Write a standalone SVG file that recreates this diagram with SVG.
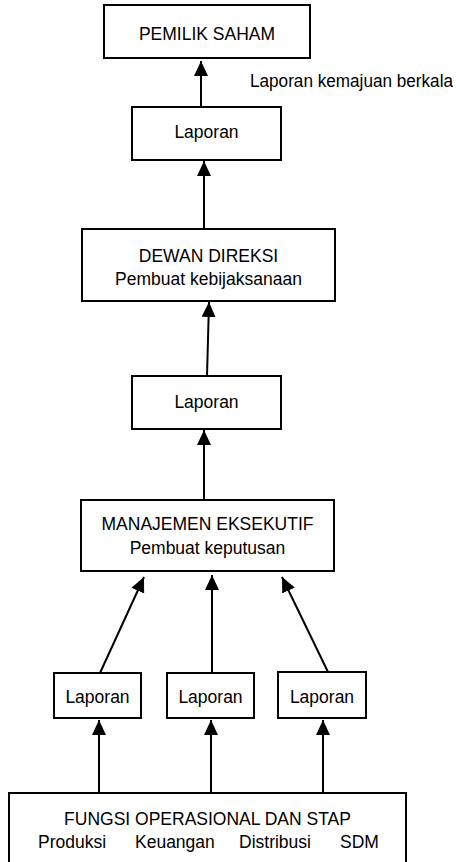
<svg xmlns="http://www.w3.org/2000/svg" width="456" height="862" viewBox="0 0 456 862">
<style>
.box{fill:#fff;stroke:#000;stroke-width:2}
.t{font-family:"Liberation Sans",Arial,sans-serif;font-size:17.5px;fill:#000;text-anchor:middle}
.ts{font-family:"Liberation Sans",Arial,sans-serif;font-size:17.5px;fill:#000}
.c{stroke:#000;stroke-width:2;fill:none;marker-end:url(#ah)}
</style>
<defs>
<marker id="ah" markerUnits="userSpaceOnUse" markerWidth="16" markerHeight="14" refX="15" refY="7" orient="auto" viewBox="0 0 16 14">
<path d="M0,0 L15,7 L0,14 z" fill="#000"/>
</marker>
</defs>
<rect width="456" height="862" fill="#fff"/>
<g id="connectors">
<line class="c" x1="201" y1="107" x2="201" y2="61"/>
<line class="c" x1="204" y1="229" x2="204" y2="161"/>
<line class="c" x1="207" y1="376" x2="209" y2="302"/>
<line class="c" x1="204" y1="500" x2="204" y2="430"/>
<line class="c" x1="100" y1="673" x2="144" y2="577"/>
<line class="c" x1="212" y1="673" x2="212" y2="575"/>
<line class="c" x1="328" y1="672" x2="282" y2="577"/>
<line class="c" x1="99" y1="793" x2="99" y2="720"/>
<line class="c" x1="211" y1="793" x2="211" y2="720"/>
<line class="c" x1="323" y1="793" x2="323" y2="720"/>
</g>
<g id="label-berkala">
<text class="ts" x="250" y="87" textLength="203" lengthAdjust="spacingAndGlyphs">Laporan kemajuan berkala</text>
</g>
<g id="pemilik">
<rect class="box" x="104" y="5" width="206" height="53"/>
<text class="t" x="207" y="40">PEMILIK SAHAM</text>
</g>
<g id="laporan1">
<rect class="box" x="132" y="107" width="149" height="53"/>
<text class="t" x="206.5" y="138">Laporan</text>
</g>
<g id="dewan">
<rect class="box" x="82" y="229" width="253" height="72"/>
<text class="t" x="208.5" y="262">DEWAN DIREKSI</text>
<text class="t" x="208.5" y="285">Pembuat kebijaksanaan</text>
</g>
<g id="laporan2">
<rect class="box" x="132" y="376" width="149" height="53"/>
<text class="t" x="206.5" y="408">Laporan</text>
</g>
<g id="manajemen">
<rect class="box" x="81" y="500" width="253" height="71"/>
<text class="t" x="207.5" y="530">MANAJEMEN EKSEKUTIF</text>
<text class="t" x="207.5" y="554">Pembuat keputusan</text>
</g>
<g id="laporan3">
<rect class="box" x="54" y="673" width="87" height="45"/>
<text class="t" x="97.5" y="703">Laporan</text>
</g>
<g id="laporan4">
<rect class="box" x="167" y="673" width="87" height="45"/>
<text class="t" x="210.5" y="703">Laporan</text>
</g>
<g id="laporan5">
<rect class="box" x="278" y="672" width="88" height="46"/>
<text class="t" x="322" y="703">Laporan</text>
</g>
<g id="fungsi">
<rect class="box" x="9" y="793" width="397" height="80"/>
<text class="t" x="207.5" y="825">FUNGSI OPERASIONAL DAN STAP</text>
<text class="ts" y="848"><tspan x="38">Produksi</tspan><tspan x="135">Keuangan</tspan><tspan x="239">Distribusi</tspan><tspan x="340">SDM</tspan></text>
</g>
</svg>
